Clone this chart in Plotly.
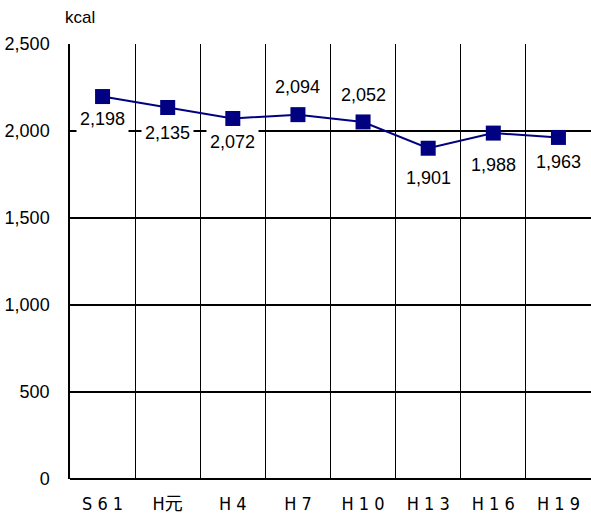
import plotly.graph_objects as go

# Energy intake per person per day (kcal)
periods = ["S 6 1", "H元", "H 4", "H 7", "H 1 0", "H 1 3", "H 1 6", "H 1 9"]
kcal = [2198, 2135, 2072, 2094, 2052, 1901, 1988, 1963]
label_text = ["2,198", "2,135", "2,072", "2,094", "2,052", "1,901", "1,988", "1,963"]
# vertical offset of each value label from its marker (px, negative = below)
label_shift = [-22, -25, -24, 28, 27, -30, -32, -25]

W, H = 591, 522
ML, MR, MT, MB = 70, 0, 44, 43
SANS = "Liberation Sans, Arial, sans-serif"

fig = go.Figure()
fig.add_trace(go.Scatter(
    x=periods, y=kcal, mode="lines+markers",
    line=dict(color="#000080", width=2),
    marker=dict(symbol="square", size=15, color="#000080"),
    hoverinfo="skip", showlegend=False,
))

for p, v, t, s in zip(periods, kcal, label_text, label_shift):
    fig.add_annotation(
        x=p, y=v, text=t, showarrow=False, yshift=s,
        font=dict(family=SANS, size=18, color="black"),
        bgcolor="white", borderpad=3,
    )

# unit label above the value axis
fig.add_annotation(
    xref="paper", yref="paper", x=-7 / (W - ML - MR), y=1, yshift=27,
    xanchor="left", yanchor="middle", text="kcal", showarrow=False,
    font=dict(family=SANS, size=17, color="black"),
)

fig.update_layout(
    width=W, height=H,
    margin=dict(l=ML, r=MR, t=MT, b=MB, pad=0),
    paper_bgcolor="white", plot_bgcolor="white",
    xaxis=dict(
        type="category", range=[-0.5, 7.5],
        tickson="boundaries", showgrid=True, gridcolor="black", gridwidth=1,
        ticks="", showline=False, ticklabelstandoff=12,
        tickfont=dict(family="Liberation Sans Narrow, DejaVu Sans Condensed, Liberation Sans, Noto Sans CJK JP, sans-serif",
                      size=18, color="black"),
    ),
    yaxis=dict(
        range=[0, 2500], dtick=500, tickformat=",",
        showgrid=True, gridcolor="black", gridwidth=2,
        zeroline=True, zerolinecolor="black", zerolinewidth=2,
        showline=True, linecolor="black", linewidth=1.5,
        ticks="", ticklabelstandoff=15,
        tickfont=dict(family=SANS, size=18, color="black"),
    ),
)

fig.write_html("out.html")
